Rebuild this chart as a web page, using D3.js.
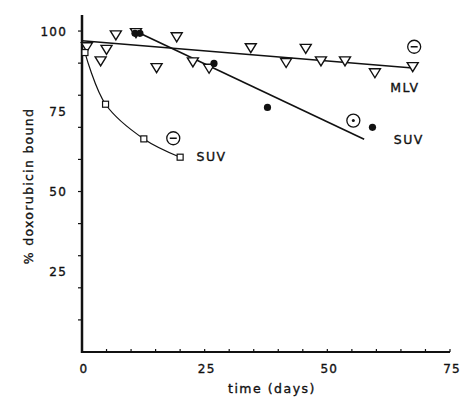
<!DOCTYPE html>
<html>
<head>
<meta charset="utf-8">
<script src="https://cdn.jsdelivr.net/npm/d3@7"></script>
<style>
  body { margin: 0; background: #fff; }
  text { font-family: "DejaVu Sans", sans-serif; fill: #111; stroke: #111; stroke-width: 0.35px; }
</style>
</head>
<body>
<svg width="464" height="405"></svg>
<script>
// MLV (open triangles)
var mlvDays  = [1, 3.8, 5, 6.9, 11, 15.2, 19.3, 22.6, 25.9, 34.4, 41.6, 45.6, 48.7, 53.6, 59.7, 67.4];
var mlvBound = [95.1, 90.7, 94.3, 98.8, 99.5, 88.6, 98.2, 90.4, 88.4, 94.8, 90.2, 94.6, 90.7, 90.7, 87.0, 88.9];
var mlvFitDays  = [0, 67.4];
var mlvFitBound = [97, 88.5];

// SUV (filled circles)
var suvDays  = [10.8, 11.8, 26.9, 37.8, 59.2];
var suvBound = [99.3, 99.3, 89.9, 76.2, 70.0];
var suvFitDays  = [11.8, 57.5];
var suvFitBound = [99.3, 66.3];

// SUV (open squares)
var sqDays  = [0.6, 4.8, 12.6, 20.0];
var sqBound = [93.3, 77.2, 66.4, 60.7];

var xTickLabels = [0, 25, 50, 75];
var yTickLabels = [25, 50, 75, 100];

function zip(a, b) { return a.map(function(d, i) { return [d, b[i]]; }); }

var svg = d3.select("svg");
var x = d3.scaleLinear().domain([0, 75]).range([82, 450]);
var y = d3.scaleLinear().domain([0, 105]).range([352, 15]);

// axes
svg.append("line").attr("x1", x(0)).attr("x2", x(0)).attr("y1", y(105)).attr("y2", y(0) + 1)
  .attr("stroke", "#111").attr("stroke-width", 2.5);
svg.append("line").attr("x1", x(0) - 1).attr("x2", x(75)).attr("y1", y(0)).attr("y2", y(0))
  .attr("stroke", "#111").attr("stroke-width", 2);

svg.selectAll(".ytick").data(d3.range(10, 101, 10)).enter().append("line")
  .attr("x1", x(0) - 4).attr("x2", x(0)).attr("y1", function(d) { return y(d); }).attr("y2", function(d) { return y(d); })
  .attr("stroke", "#111").attr("stroke-width", 1.2);
svg.selectAll(".xtick").data(d3.range(5, 76, 5)).enter().append("line")
  .attr("x1", function(d) { return x(d); }).attr("x2", function(d) { return x(d); })
  .attr("y1", y(0) - 3).attr("y2", y(0))
  .attr("stroke", "#111").attr("stroke-width", 1.2);

svg.selectAll(".ylab").data(yTickLabels).enter().append("text")
  .attr("x", 67).attr("y", function(d) { return y(d) + 4.5; })
  .attr("text-anchor", "end").attr("font-size", 12).attr("letter-spacing", 1.2)
  .text(function(d) { return d; });
svg.selectAll(".xlab").data(xTickLabels).enter().append("text")
  .attr("x", function(d) { return x(d) + 2; }).attr("y", 373)
  .attr("text-anchor", "middle").attr("font-size", 12).attr("letter-spacing", 1.2)
  .text(function(d) { return d; });

svg.append("text").attr("x", 272).attr("y", 393).attr("text-anchor", "middle")
  .attr("font-size", 12.5).attr("letter-spacing", 1.5).text("time (days)");
svg.append("text").attr("transform", "translate(33,186) rotate(-90)").attr("text-anchor", "middle")
  .attr("font-size", 12.5).attr("letter-spacing", 1.3).text("% doxorubicin bound");

// fit lines
var line = d3.line().x(function(d) { return x(d[0]); }).y(function(d) { return y(d[1]); });
svg.append("path").attr("d", line(zip(mlvFitDays, mlvFitBound)))
  .attr("fill", "none").attr("stroke", "#111").attr("stroke-width", 1.6);
svg.append("path").attr("d", line(zip(suvFitDays, suvFitBound)))
  .attr("fill", "none").attr("stroke", "#111").attr("stroke-width", 1.6);
svg.append("path").attr("d", line.curve(d3.curveCatmullRom)(zip(sqDays, sqBound)))
  .attr("fill", "none").attr("stroke", "#111").attr("stroke-width", 1.2);

// markers
svg.selectAll(".tri").data(zip(mlvDays, mlvBound)).enter().append("path")
  .attr("transform", function(d) { return "translate(" + x(d[0]) + "," + y(d[1]) + ")"; })
  .attr("d", "M-5.5,-4L5.5,-4L0,5Z")
  .attr("fill", "#fff").attr("stroke", "#111").attr("stroke-width", 1.4);
svg.selectAll(".sq").data(zip(sqDays, sqBound)).enter().append("rect")
  .attr("x", function(d) { return x(d[0]) - 3; }).attr("y", function(d) { return y(d[1]) - 3; })
  .attr("width", 6).attr("height", 6)
  .attr("fill", "#fff").attr("stroke", "#111").attr("stroke-width", 1.2);
svg.selectAll(".dot").data(zip(suvDays, suvBound)).enter().append("circle")
  .attr("cx", function(d) { return x(d[0]); }).attr("cy", function(d) { return y(d[1]); })
  .attr("r", 3.6).attr("fill", "#111");

// legend symbols and labels
function minusCircle(d, v) {
  var g = svg.append("g").attr("transform", "translate(" + x(d) + "," + y(v) + ")");
  g.append("circle").attr("r", 6.5).attr("fill", "#fff").attr("stroke", "#111").attr("stroke-width", 1.3);
  g.append("line").attr("x1", -3.5).attr("x2", 3.5).attr("stroke", "#111").attr("stroke-width", 1.5);
}
minusCircle(67.7, 95.1);
minusCircle(18.6, 66.6);
var dc = svg.append("g").attr("transform", "translate(" + x(55.3) + "," + y(72.1) + ")");
dc.append("circle").attr("r", 6.5).attr("fill", "#fff").attr("stroke", "#111").attr("stroke-width", 1.3);
dc.append("circle").attr("r", 1.5).attr("fill", "#111");

function label(d, v, t) {
  svg.append("text").attr("x", x(d)).attr("y", y(v) + 4.5).attr("text-anchor", "middle")
    .attr("font-size", 12.5).attr("letter-spacing", 1.5).text(t);
}
label(65.8, 82.5, "MLV");
label(66.6, 66.3, "SUV");
label(26.4, 60.8, "SUV");
</script>
</body>
</html>
